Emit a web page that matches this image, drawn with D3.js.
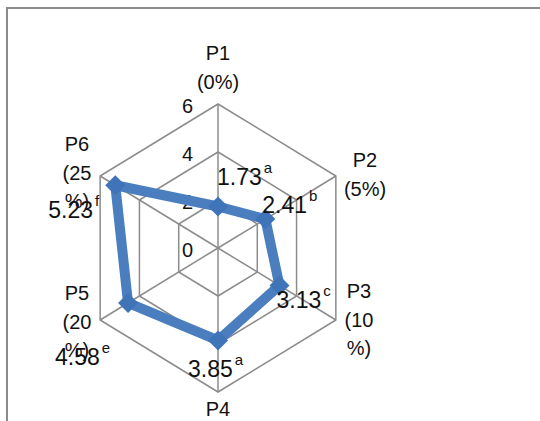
<!DOCTYPE html>
<html>
<head>
  <meta charset="utf-8">
  <title>Radar Chart</title>
  <style>
    body { margin: 0; background: #fff; }
    text { font-family: "Liberation Sans", Arial, sans-serif; fill: #111; }
    .grid { fill: none; stroke: #8c8c8c; stroke-width: 1.5px; }
    .spoke { stroke: #8c8c8c; stroke-width: 1.5px; }
  </style>
</head>
<body>
  <svg width="540" height="421"></svg>
  <script src="https://d3js.org/d3.v7.min.js"></script>
  <script>
    // Data
    const categories = ["P1", "P2", "P3", "P4", "P5", "P6"];
    const catLines = [["P1", "(0%)"], ["P2", "(5%)"], ["P3", "(10", "%)"], ["P4"], ["P5", "(20", "%)"], ["P6", "(25", "%)"]];
    const values = [1.73, 2.41, 3.13, 3.85, 4.58, 5.23];
    const letters = ["a", "b", "c", "a", "e", "f"];
    const ticks = [0, 2, 4, 6];

    const svg = d3.select("svg");
    const cx = 218, cy = 248, R = 144, hx = 0.945;

    // frame
    svg.append("rect").attr("x", 7).attr("y", 8).attr("width", 560).attr("height", 440)
      .attr("fill", "none").attr("stroke", "#8c8c8c").attr("stroke-width", 2);

    const r = d3.scaleLinear().domain([0, 6]).range([0, R]);
    const angle = d3.scalePoint().domain(categories).range([0, 2 * Math.PI * 5 / 6]);
    const px = (c, v) => cx + r(v) * Math.sin(angle(c)) * hx;
    const py = (c, v) => cy - r(v) * Math.cos(angle(c));

    // grid hexagons
    const g = svg.append("g");
    g.selectAll("polygon").data(ticks.filter(t => t > 0)).join("polygon")
      .attr("class", "grid")
      .attr("points", t => categories.map(c => [px(c, t), py(c, t)].join(",")).join(" "));
    g.selectAll("line").data(categories).join("line")
      .attr("class", "spoke")
      .attr("x1", cx).attr("y1", cy)
      .attr("x2", c => px(c, 6)).attr("y2", c => py(c, 6));

    // tick labels
    g.selectAll("text.tick").data(ticks).join("text")
      .attr("class", "tick")
      .attr("x", cx - 25).attr("y", t => cy - r(t) + 9)
      .attr("text-anchor", "end").attr("font-size", 20)
      .text(d => d);

    // category labels
    const catPos = [[218, 60], [365, 167], [359, 298], [218, 416], [77, 300], [77, 151]];
    categories.forEach((c, i) => {
      const t = svg.append("text").attr("text-anchor", "middle").attr("font-size", 20);
      catLines[i].forEach((s, j) => {
        t.append("tspan").attr("x", catPos[i][0]).attr("y", catPos[i][1] + j * 28.5).text(s);
      });
    });

    // series line
    const line = d3.line().x(d => px(d.c, d.v)).y(d => py(d.c, d.v)).curve(d3.curveLinearClosed);
    const pts = categories.map((c, i) => ({ c: c, v: values[i], l: letters[i] }));
    svg.append("path").datum(pts).attr("d", line)
      .attr("fill", "none").attr("stroke", "#4a7ebf").attr("stroke-width", 10)
      .attr("stroke-linejoin", "round");

    svg.selectAll("path.mark").data(pts).join("path")
      .attr("class", "mark")
      .attr("d", d3.symbol(d3.symbolSquare, 200))
      .attr("transform", d => `translate(${px(d.c, d.v)},${py(d.c, d.v)}) rotate(45)`)
      .attr("fill", "#3f74b8");

    // data labels
    const labelOff = [[-1, -21], [-3, -6], [-3, 22], [-30, 37], [-73, 62], [-67, 33]];
    const dl = svg.selectAll("text.dl").data(pts).join("text")
      .attr("class", "dl")
      .attr("x", (d, i) => px(d.c, d.v) + labelOff[i][0])
      .attr("y", (d, i) => py(d.c, d.v) + labelOff[i][1])
      .attr("font-size", 23);
    dl.append("tspan").text(d => d.v.toFixed(2));
    dl.append("tspan").attr("font-size", 15).attr("dx", 2).attr("dy", -12).text(d => d.l);
  </script>
</body>
</html>
